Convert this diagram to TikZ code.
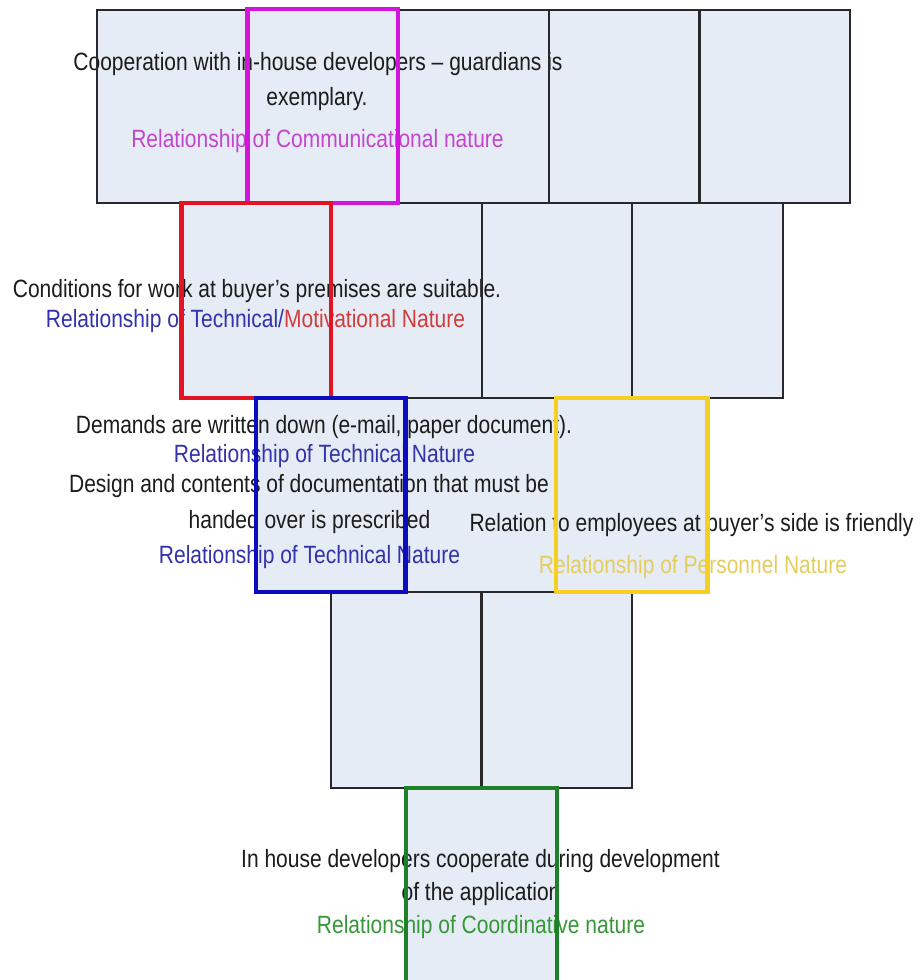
\documentclass[tikz,border=0pt]{standalone}
\usepackage{fontspec}
\setmainfont{Liberation Sans}[FakeStretch=0.84]
\begin{document}
\definecolor{cellfill}{RGB}{230,236,245}
\definecolor{cellline}{RGB}{40,40,44}
\definecolor{inktext}{RGB}{28,28,28}
\definecolor{edgemag}{RGB}{210,20,220}
\definecolor{edgered}{RGB}{225,20,35}
\definecolor{edgeblue}{RGB}{12,12,190}
\definecolor{edgeyel}{RGB}{245,208,35}
\definecolor{edgegreen}{RGB}{30,128,40}
\definecolor{txtmag}{RGB}{195,70,205}
\definecolor{txtblue}{RGB}{50,50,170}
\definecolor{txtred}{RGB}{210,60,60}
\definecolor{txtyel}{RGB}{228,205,95}
\definecolor{txtgreen}{RGB}{55,150,55}
\begin{tikzpicture}[x=1pt,y=-1pt,
  cellbox/.style={fill=cellfill,draw=cellline,line width=2.2pt},
  celledge/.style={draw=cellline,line width=2.2pt},
  markbox/.style={draw=#1,line width=4.4pt},
  txt/.style={anchor=base,inner sep=0pt,font=\fontsize{25}{30}\selectfont,text=inktext}]
\useasboundingbox (0,0) rectangle (922,980);

% pyramid of cells: 5, 4, 3, 2, 1 per row
\foreach \i in {0,...,4}
  \filldraw[cellbox] ({97+150.6*\i},10) rectangle ({97+150.6*(\i+1)},203);
\foreach \i in {0,...,3}
  \filldraw[cellbox] ({181+150.4*\i},203) rectangle ({181+150.4*(\i+1)},398);
\foreach \i in {0,...,2}
  \filldraw[cellbox] ({255.5+150.5*\i},398) rectangle ({255.5+150.5*(\i+1)},592);
\foreach \i in {0,...,1}
  \filldraw[cellbox] ({331+150.5*\i},592) rectangle ({331+150.5*(\i+1)},788);
\filldraw[cellbox] (405.5,788) rectangle (557,985);

% statements and their relationship labels
\node[txt] (c1) at (318,70) {Cooperation with in-house developers – guardians is};
\node[txt] (c2) at (317,105) {exemplary.};
\node[txt,text=txtmag] (c3) at (317.5,147) {Relationship of Communicational nature};

\node[txt] (w1) at (257,297) {Conditions for work at buyer's premises are suitable.};
\node[txt] (w2) at (255.5,327) {\textcolor{txtblue}{Relationship of Technical/}\textcolor{txtred}{Motivational Nature}};

\node[txt] (d1) at (324,433) {Demands are written down (e-mail, paper document).};
\node[txt,text=txtblue] (d2) at (324.5,462) {Relationship of Technical Nature};

\node[txt] (p1) at (309,492) {Design and contents of documentation that must be};
\node[txt] (p2) at (309.5,528) {handed over is prescribed};
\node[txt,text=txtblue] (p3) at (309.5,563) {Relationship of Technical Nature};

\node[txt] (e1) at (691.5,531) {Relation to employees at buyer's side is friendly};
\node[txt,text=txtyel] (e2) at (693,573) {Relationship of Personnel Nature};

\node[txt] (h1) at (480.5,867) {In house developers cooperate during development};
\node[txt] (h2) at (481,900) {of the application};
\node[txt,text=txtgreen] (h3) at (481,933) {Relationship of Coordinative nature};

% cell outlines drawn again above the text
\foreach \i in {0,...,4}
  \draw[celledge] ({97+150.6*\i},10) rectangle ({97+150.6*(\i+1)},203);
\foreach \i in {0,...,3}
  \draw[celledge] ({181+150.4*\i},203) rectangle ({181+150.4*(\i+1)},398);
\foreach \i in {0,...,2}
  \draw[celledge] ({255.5+150.5*\i},398) rectangle ({255.5+150.5*(\i+1)},592);
\foreach \i in {0,...,1}
  \draw[celledge] ({331+150.5*\i},592) rectangle ({331+150.5*(\i+1)},788);

% highlighted cells
\draw[markbox=edgemag] (247.6,9) rectangle (398.2,203);
\draw[markbox=edgered] (181.5,203) rectangle (331,398);
\draw[markbox=edgeblue] (256,398) rectangle (405.5,592);
\draw[markbox=edgeyel] (556,398) rectangle (707.5,592);
\draw[markbox=edgegreen] (406,788) rectangle (557,990);
\end{tikzpicture}
\end{document}
